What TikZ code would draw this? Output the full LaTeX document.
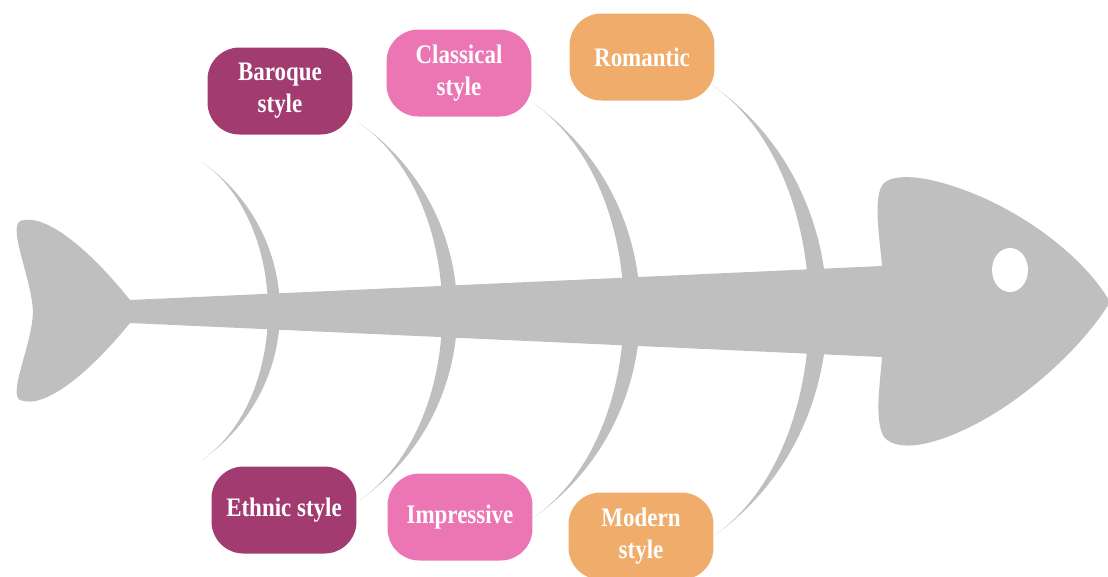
\documentclass[tikz,border=0pt]{standalone}
\usepackage{fontspec}
\setmainfont{Liberation Serif}[FakeStretch=0.86]
\usepackage{xcolor}

\definecolor{bonegray}{HTML}{BFBFBF}
\definecolor{plum}{HTML}{A23B70}
\definecolor{rosepink}{HTML}{EC76B4}
\definecolor{apricot}{HTML}{F0AC6A}

\tikzset{
  era/.style={rounded corners=0.64cm, minimum width=2.9cm, minimum height=1.74cm,
    inner sep=0pt, text=white, align=center,
    font=\bfseries\fontsize{15.2}{18.2}\selectfont},
}

\begin{document}
\begin{tikzpicture}[x=0.02cm, y=-0.02cm]
        \useasboundingbox (0,0) rectangle (1108,576);

        % Define the ends of the bones
        \coordinate (T1) at (202, 162);   % Top of first bone
        \coordinate (D1) at (202, 460);   % Bottom of first bone
        \coordinate (T2) at (358, 122);   % Below Baroque
        \coordinate (D2) at (360, 500);   % Beside Ethnic
        \coordinate (T3) at (533, 103);   % Below Classical
        \coordinate (D3) at (533, 518);   % Beside Impressive
        \coordinate (T4) at (712, 85);    % Below Romantic
        \coordinate (D4) at (715, 535);   % Beside Modern

        % Draw the bones as thin crescents
        \fill[bonegray] (T1) .. controls (306, 235) and (306, 387) .. (D1)
                             .. controls (290, 398) and (290, 224) .. (T1);
        \fill[bonegray] (T2) .. controls (490, 214) and (490, 408) .. (D2)
                             .. controls (470, 422) and (470, 200) .. (T2);
        \fill[bonegray] (T3) .. controls (676, 203) and (676, 418) .. (D3)
                             .. controls (654, 433) and (654, 188) .. (T3);
        \fill[bonegray] (T4) .. controls (865, 192) and (865, 428) .. (D4)
                             .. controls (841, 445) and (841, 175) .. (T4);

        % Draw the fish: spine, head and tail
        \fill[bonegray] (130, 300) -- (882, 266)
            .. controls (880, 240) and (872, 195) .. (884, 183)
            .. controls (893, 175) and (915, 176) .. (935, 181)
            .. controls (1005, 198) and (1080, 250) .. (1110, 302)
            .. controls (1080, 352) and (1005, 420) .. (935, 441)
            .. controls (912, 448) and (892, 447) .. (884, 437)
            .. controls (874, 420) and (880, 385) .. (882, 357)
            -- (130, 323)
            .. controls (90, 372) and (45, 410) .. (20, 400)
            .. controls (8, 393) and (32, 345) .. (33, 312)
            .. controls (32, 280) and (8, 229) .. (20, 221)
            .. controls (45, 212) and (90, 250) .. (130, 300) -- cycle;

        % Eye
        \fill[white] (1010, 270) ellipse (18 and 22);

        % Boxes of the styles
        \node[era, fill=plum] (baroque) at (280, 91) {Baroque\\style};
        \node[era, fill=rosepink] (classical) at (459, 73) {Classical\\style};
        \node[era, fill=apricot] (romantic) at (642, 57) {Romantic};
        \node[era, fill=plum] (ethnic) at (284, 510) {Ethnic style};
        \node[era, fill=rosepink] (impressive) at (460, 517) {Impressive};
        \node[era, fill=apricot] (modern) at (641, 536) {Modern\\style};

    \end{tikzpicture}
\end{document}
